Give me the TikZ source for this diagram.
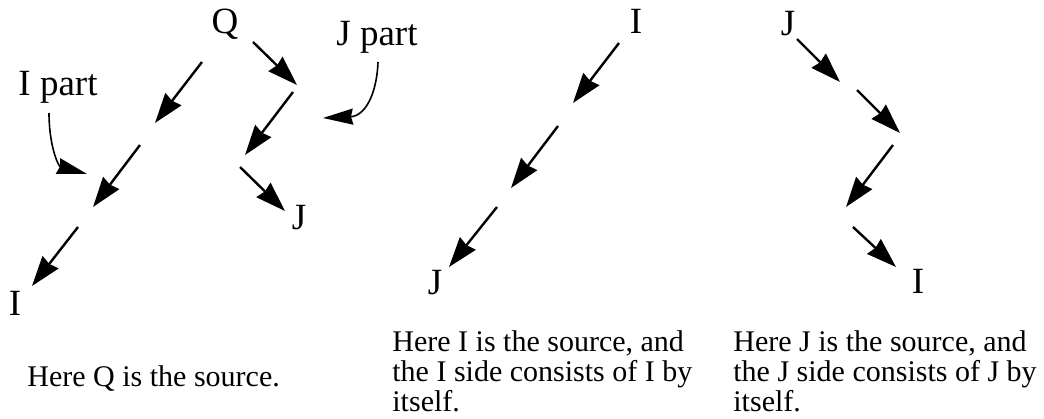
\documentclass[tikz,border=0pt]{standalone}
\usepackage{fontspec}
\setmainfont{Liberation Serif}
\usetikzlibrary{arrows.meta}

\begin{document}
\begin{tikzpicture}[
  x=0.5pt, y=-0.5pt,
  lbl/.style={font=\fontsize{18.5pt}{22pt}\selectfont, inner sep=0pt, anchor=base},
  note/.style={font=\fontsize{15pt}{15pt}\selectfont, inner sep=0pt,
               align=left, anchor=north west},
  arr/.style={-{Stealth[length=15pt, width=10pt, inset=1pt]}, line width=1.2pt},
  bent/.style={-{Stealth[length=15pt, width=8pt, inset=1pt]}, line width=0.8pt}
]
  \useasboundingbox (0,0) rectangle (1044,418);

  % Q is the source
  \node[lbl] (q)     at (225,33)  {Q};
  \node[lbl] (qi)    at (15,315)  {I};
  \node[lbl] (qj)    at (299,229) {J};
  \node[lbl] (ipart) at (58,95)   {I part};
  \node[lbl] (jpart) at (377,45)  {J part};

  \coordinate (qi1) at (202,62);  \coordinate (qi2) at (155,123);
  \coordinate (qi3) at (140,145); \coordinate (qi4) at (93,207);
  \coordinate (qi5) at (78,227);  \coordinate (qi6) at (32,286);
  \foreach \a/\b in {1/2,3/4,5/6}
    \draw[arr] (qi\a) -- (qi\b);

  \coordinate (qj1) at (253,42);  \coordinate (qj2) at (297,85);
  \coordinate (qj3) at (293,92);  \coordinate (qj4) at (245,155);
  \coordinate (qj5) at (240,167); \coordinate (qj6) at (285,211);
  \foreach \a/\b in {1/2,3/4,5/6}
    \draw[arr] (qj\a) -- (qj\b);

  \coordinate (ip1) at (49,113);  \coordinate (ip2) at (87,174);
  \draw[bent] (ip1) .. controls (49,145) and (58,166) .. (ip2);
  \coordinate (jp1) at (378,62);  \coordinate (jp2) at (323,118);
  \draw[bent] (jp1) .. controls (377,92) and (366,116) .. (jp2);

  % I is the source
  \node[lbl] (ii) at (636,33)  {I};
  \node[lbl] (ij) at (435,294) {J};

  \coordinate (ij1) at (619,43);  \coordinate (ij2) at (573,103);
  \coordinate (ij3) at (558,126); \coordinate (ij4) at (511,188);
  \coordinate (ij5) at (497,207); \coordinate (ij6) at (449,267);
  \foreach \a/\b in {1/2,3/4,5/6}
    \draw[arr] (ij\a) -- (ij\b);

  % J is the source
  \node[lbl] (jj) at (788,35)  {J};
  \node[lbl] (ji) at (918,293) {I};

  \coordinate (ji1) at (797,39);  \coordinate (ji2) at (840,82);
  \coordinate (ji3) at (857,90);  \coordinate (ji4) at (900,133);
  \coordinate (ji5) at (893,145); \coordinate (ji6) at (846,207);
  \coordinate (ji7) at (853,227); \coordinate (ji8) at (896,267);
  \foreach \a/\b in {1/2,3/4,5/6,7/8}
    \draw[arr] (ji\a) -- (ji\b);

  % captions
  \node[note] (qnote) at (27,365) {Here Q is the source.};
  \node[note] (inote) at (392,330) {Here I is the source, and\\
    the I side consists of I by\\itself.};
  \node[note] (jnote) at (733,330) {Here J is the source, and\\
    the J side consists of J by\\itself.};
\end{tikzpicture}
\end{document}
